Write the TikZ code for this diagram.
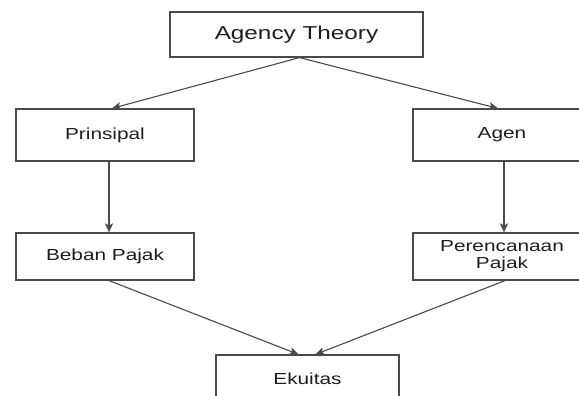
\documentclass[tikz,border=0pt]{standalone}
\usepackage{fontspec}
\setmainfont{Liberation Sans}[FakeStretch=1.3]
\usepackage{tikz}
\usetikzlibrary{arrows.meta,calc,positioning}

\definecolor{edgegray}{HTML}{4A4A4A}
\definecolor{textgray}{HTML}{1E1E1E}

\begin{document}
\begin{tikzpicture}[
        x=1pt, y=-1pt,
        box/.style={draw=edgegray, line width=1.2pt, align=center, minimum width=178pt, minimum height=50pt, inner sep=0pt, text=textgray, font=\fontsize{16}{17}\selectfont},
        arrow/.style={-{Stealth[length=9pt, width=8pt, inset=2pt]}, draw=edgegray, line width=1.1pt}
    ]
        \useasboundingbox (0,0) rectangle (579,396);
        \clip (0,0) rectangle (579,396);
        \fill[white] (0,0) rectangle (579,396);
        \node[box, minimum width=253pt, minimum height=45pt, font=\fontsize{18.7}{21}\selectfont] (theory) at (296.5,34.5) {Agency Theory};
        \node[box, minimum height=52pt] (prinsipal) at (105,135) {Prinsipal};
        \node[box, minimum height=52pt] (agen) at (502,135) {Agen};
        \node[box, minimum height=47pt] (beban) at (105,256.5) {Beban Pajak};
        \node[box, minimum height=47pt] (rencana) at (502,256.5) {Perencanaan\\Pajak};
        \node[box, minimum width=183pt, minimum height=48pt] (ekuitas) at (307.5,379) {Ekuitas};
        \draw[arrow] ([xshift=3pt]theory.south) -- ([xshift=7pt]prinsipal.north);
        \draw[arrow] ([xshift=3pt]theory.south) -- ([xshift=-4pt]agen.north);
        \draw[arrow] ([xshift=4pt]prinsipal.south) -- ([xshift=4pt]beban.north);
        \draw[arrow] ([xshift=2pt]agen.south) -- ([xshift=2pt]rencana.north);
        \draw[arrow] ([xshift=4pt]beban.south) -- ([xshift=-9pt]ekuitas.north);
        \draw[arrow] ([xshift=3pt]rencana.south) -- ([xshift=8pt]ekuitas.north);
    \end{tikzpicture}
\end{document}
